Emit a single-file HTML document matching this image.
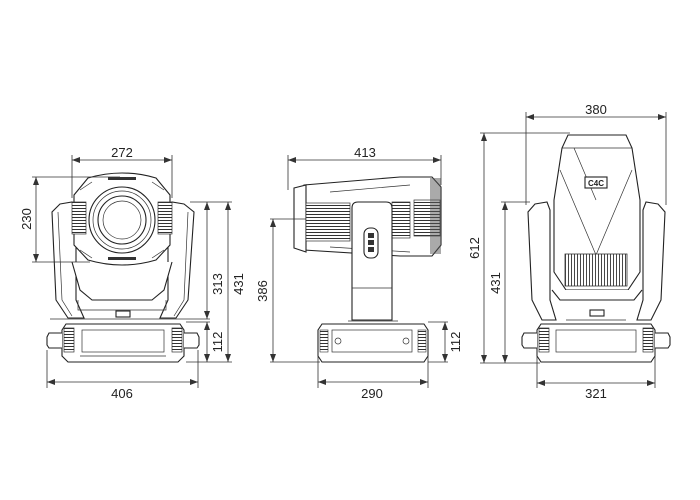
<!DOCTYPE html>
<html><head><meta charset="utf-8"><style>
html,body{margin:0;padding:0;background:#fff;}
svg{display:block}
text{font-family:"Liberation Sans",Arial,sans-serif;font-size:13px;fill:#222}
.d{stroke:#333;stroke-width:0.8;fill:none}
.o{stroke:#222;stroke-width:1.1;fill:#fff}
.t{stroke:#333;stroke-width:0.7;fill:none}
.k{fill:#333}
</style></head><body>
<svg width="700" height="500" viewBox="0 0 700 500" xmlns="http://www.w3.org/2000/svg">
<defs>
<marker id="a" markerWidth="8" markerHeight="6" refX="8" refY="3" orient="auto-start-reverse" markerUnits="userSpaceOnUse"><path d="M0,0 L8,3 L0,6 z" fill="#333"/></marker>
<pattern id="fins" width="4" height="3" patternUnits="userSpaceOnUse"><rect width="4" height="3" fill="#fff"/><line x1="0" y1="1.5" x2="4" y2="1.5" stroke="#333" stroke-width="1"/></pattern>
<pattern id="vf" width="3" height="4" patternUnits="userSpaceOnUse"><rect width="3" height="4" fill="#fff"/><line x1="1.5" y1="0" x2="1.5" y2="4" stroke="#333" stroke-width="0.9"/></pattern>
</defs>

<!-- ===== VIEW 1 FRONT ===== -->
<!-- arms -->
<path class="o" d="M60,204 L72,202 L76,210 L76,300 L84,318 L68,318 L56,300 L52,212 Z"/>
<path class="o" d="M184,204 L172,202 L168,210 L168,300 L160,318 L176,318 L188,300 L194,212 Z"/>
<path class="t" d="M58,212 L62,300 L72,316"/><path class="t" d="M188,212 L184,300 L174,316"/>
<!-- yoke lower -->
<path class="o" d="M72,262 L80,290 L92,300 L152,300 L164,290 L172,262"/>
<path class="t" d="M78,300 L78,310 L166,310 L166,300"/>
<rect class="o" x="116" y="311" width="14" height="6"/>
<!-- head -->
<path class="o" d="M88,178 Q122,168 156,178 L170,195 L170,245 L156,260 Q122,270 88,260 L74,245 L74,195 Z"/>
<rect x="72" y="202" width="14" height="32" fill="url(#fins)" stroke="#333" stroke-width="0.7"/>
<rect x="158" y="202" width="14" height="32" fill="url(#fins)" stroke="#333" stroke-width="0.7"/>
<path class="t" d="M80,190 L92,182 M164,190 L152,182 M80,250 L92,258 M164,250 L152,258"/>
<rect x="108" y="177" width="28" height="3" class="k"/><rect x="108" y="257" width="28" height="3" class="k"/>
<circle class="o" cx="122" cy="220" r="33"/>
<circle class="t" cx="122" cy="220" r="29"/>
<circle class="o" cx="122" cy="220" r="24" stroke-width="1.5"/>
<circle class="t" cx="122" cy="220" r="19"/>
<!-- base -->
<line class="t" x1="50" y1="319" x2="210" y2="319"/>
<path class="o" d="M66,324 L180,324 L184,330 L184,356 L178,362 L68,362 L62,356 L62,330 Z"/>
<rect class="t" x="82" y="330" width="82" height="22"/>
<rect x="64" y="328" width="10" height="24" fill="url(#fins)" stroke="#333" stroke-width="0.7"/>
<rect x="172" y="328" width="10" height="24" fill="url(#fins)" stroke="#333" stroke-width="0.7"/>
<path class="o" d="M62,333 L49,333 L47,337 L47,345 L49,348 L62,348"/>
<path class="o" d="M184,333 L197,333 L199,337 L199,345 L197,348 L184,348"/>
<line class="t" x1="80" y1="356" x2="166" y2="356"/>
<!-- dims -->
<path class="d" d="M72,155 V198 M172,155 V198"/>
<line class="d" x1="72" y1="160" x2="172" y2="160" marker-start="url(#a)" marker-end="url(#a)"/>
<text x="122" y="157" text-anchor="middle">272</text>
<path class="d" d="M32,177 H120 M32,262 H90"/>
<line class="d" x1="36" y1="177" x2="36" y2="262" marker-start="url(#a)" marker-end="url(#a)"/>
<text transform="translate(31,219) rotate(-90)" text-anchor="middle">230</text>
<path class="d" d="M190,202 H232 M186,362 H232 M186,322 H210"/>
<line class="d" x1="207" y1="202" x2="207" y2="319" marker-start="url(#a)" marker-end="url(#a)"/>
<line class="d" x1="207" y1="322" x2="207" y2="362" marker-start="url(#a)" marker-end="url(#a)"/>
<line class="d" x1="228" y1="202" x2="228" y2="362" marker-start="url(#a)" marker-end="url(#a)"/>
<text transform="translate(222,284) rotate(-90)" text-anchor="middle">313</text>
<text transform="translate(222,342) rotate(-90)" text-anchor="middle">112</text>
<text transform="translate(243,284) rotate(-90)" text-anchor="middle">431</text>
<path class="d" d="M47,350 V388 M198,350 V388"/>
<line class="d" x1="47" y1="382" x2="198" y2="382" marker-start="url(#a)" marker-end="url(#a)"/>
<text x="122" y="398" text-anchor="middle">406</text>

<!-- ===== VIEW 2 SIDE ===== -->
<path class="o" d="M304,185 L400,177 L432,177 L441,187 L441,245 L432,256 L400,256 L304,250 Z"/>
<path class="o" d="M294,188 L306,185 L306,252 L294,248 Z"/>
<rect x="306" y="203" width="44" height="38" fill="url(#fins)" stroke="#333" stroke-width="0.7"/>
<rect x="392" y="202" width="18" height="36" fill="url(#fins)" stroke="#333" stroke-width="0.7"/>
<rect x="414" y="200" width="26" height="36" fill="url(#fins)" stroke="#333" stroke-width="0.7"/>
<path class="t" d="M330,192 L410,185 M330,247 L410,252"/>
<rect x="430" y="178" width="11" height="76" fill="#555" opacity="0.5"/>
<!-- arm -->
<path class="o" d="M352,208 Q352,202 358,202 L386,202 Q392,202 392,208 L392,320 L352,320 Z"/>
<rect class="o" x="364" y="228" width="14" height="30" rx="6"/>
<rect class="k" x="368" y="233" width="6" height="5"/><rect class="k" x="368" y="240" width="6" height="5"/><rect class="k" x="368" y="247" width="6" height="5"/>
<line class="t" x1="352" y1="288" x2="392" y2="288"/>
<!-- base -->
<line class="t" x1="348" y1="321" x2="398" y2="321"/>
<path class="o" d="M322,324 L424,324 L428,330 L428,356 L424,362 L322,362 L318,356 L318,330 Z"/>
<rect class="t" x="332" y="330" width="80" height="22"/>
<circle class="t" cx="338" cy="341" r="3"/><circle class="t" cx="406" cy="341" r="3"/>
<rect x="320" y="330" width="8" height="22" fill="url(#fins)" stroke="#333" stroke-width="0.6"/>
<rect x="418" y="330" width="8" height="22" fill="url(#fins)" stroke="#333" stroke-width="0.6"/>
<!-- dims -->
<path class="d" d="M288,155 V190 M441,155 V185"/>
<line class="d" x1="288" y1="160" x2="441" y2="160" marker-start="url(#a)" marker-end="url(#a)"/>
<text x="365" y="157" text-anchor="middle">413</text>
<path class="d" d="M270,219 H306 M270,362 H320"/>
<line class="d" x1="273" y1="219" x2="273" y2="362" marker-start="url(#a)" marker-end="url(#a)"/>
<text transform="translate(267,291) rotate(-90)" text-anchor="middle">386</text>
<path class="d" d="M428,322 H448 M428,362 H448"/>
<line class="d" x1="445" y1="322" x2="445" y2="362" marker-start="url(#a)" marker-end="url(#a)"/>
<text transform="translate(460,342) rotate(-90)" text-anchor="middle">112</text>
<path class="d" d="M318,350 V388 M428,350 V388"/>
<line class="d" x1="318" y1="382" x2="428" y2="382" marker-start="url(#a)" marker-end="url(#a)"/>
<text x="372" y="398" text-anchor="middle">290</text>

<!-- ===== VIEW 3 BACK ===== -->
<path class="o" d="M535,204 L547,202 L550,210 L550,300 L556,320 L542,320 L532,300 L528,212 Z"/>
<path class="o" d="M658,204 L646,202 L643,210 L643,300 L637,320 L651,320 L661,300 L665,212 Z"/>
<path class="o" d="M568,135 L626,135 L632,148 L640,200 L640,272 L628,290 L566,290 L554,272 L554,200 L562,148 Z"/>
<path class="t" d="M562,148 H632 M560,170 L596,255 L632,170 M574,148 L596,200"/>
<rect class="o" x="585" y="177" width="22" height="11"/>
<text x="596" y="186" text-anchor="middle" style="font-size:8px;font-weight:bold">C4C</text>
<rect x="565" y="254" width="62" height="32" fill="url(#vf)" stroke="#333" stroke-width="0.8"/>
<path class="o" d="M552,290 L560,300 L634,300 L642,290"/>
<rect class="o" x="590" y="310" width="14" height="6"/>
<line class="t" x1="566" y1="320" x2="626" y2="320"/>
<path class="o" d="M541,324 L651,324 L655,330 L655,356 L651,362 L541,362 L537,356 L537,330 Z"/>
<rect class="t" x="556" y="330" width="80" height="22"/>
<rect x="539" y="328" width="10" height="24" fill="url(#fins)" stroke="#333" stroke-width="0.7"/>
<rect x="643" y="328" width="10" height="24" fill="url(#fins)" stroke="#333" stroke-width="0.7"/>
<path class="o" d="M537,333 L524,333 L522,337 L522,345 L524,348 L537,348"/>
<path class="o" d="M655,333 L668,333 L670,337 L670,345 L668,348 L655,348"/>
<!-- dims -->
<path class="d" d="M526,112 V205 M666,112 V205"/>
<line class="d" x1="526" y1="117" x2="666" y2="117" marker-start="url(#a)" marker-end="url(#a)"/>
<text x="596" y="114" text-anchor="middle">380</text>
<path class="d" d="M480,133 H570 M480,363 H540 M501,202 H530"/>
<line class="d" x1="484" y1="133" x2="484" y2="363" marker-start="url(#a)" marker-end="url(#a)"/>
<line class="d" x1="505" y1="202" x2="505" y2="363" marker-start="url(#a)" marker-end="url(#a)"/>
<text transform="translate(479,248) rotate(-90)" text-anchor="middle">612</text>
<text transform="translate(500,283) rotate(-90)" text-anchor="middle">431</text>
<path class="d" d="M537,350 V388 M655,350 V388"/>
<line class="d" x1="537" y1="383" x2="655" y2="383" marker-start="url(#a)" marker-end="url(#a)"/>
<text x="596" y="398" text-anchor="middle">321</text>
</svg>
</body></html>
